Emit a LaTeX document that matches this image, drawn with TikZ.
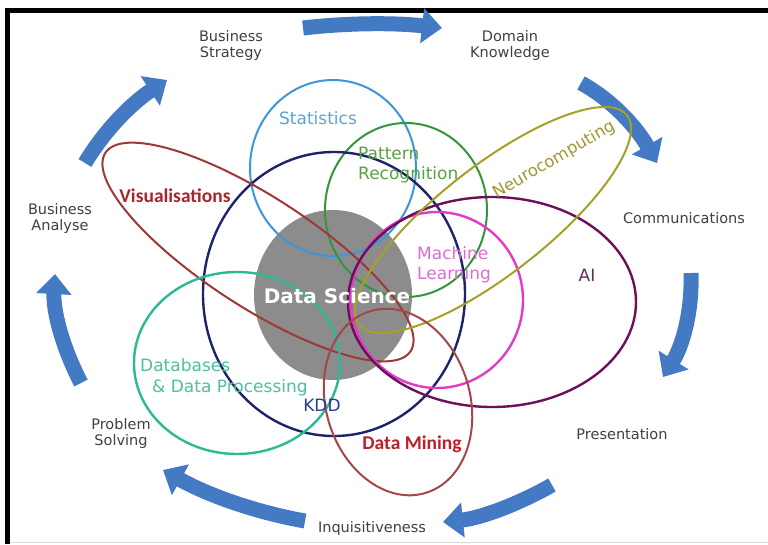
\documentclass[tikz,border=0pt]{standalone}
\usepackage{fontspec}
\setmainfont{DejaVu Sans}
\newfontfamily\crl{Carlito}
\usetikzlibrary{arrows.meta,shapes.geometric}
\definecolor{arrowblue}{RGB}{68,122,196}
\definecolor{statc}{RGB}{60,150,215}
\definecolor{statt}{RGB}{90,165,210}
\definecolor{patc}{RGB}{50,150,60}
\definecolor{patt}{RGB}{90,160,70}
\definecolor{kddc}{RGB}{30,35,110}
\definecolor{kddt}{RGB}{45,60,140}
\definecolor{visc}{RGB}{160,55,55}
\definecolor{vist}{RGB}{170,35,45}
\definecolor{dbc}{RGB}{45,185,150}
\definecolor{dbt}{RGB}{80,190,160}
\definecolor{mlc}{RGB}{225,60,200}
\definecolor{mlt}{RGB}{220,110,210}
\definecolor{aic}{RGB}{110,15,90}
\definecolor{ait}{RGB}{100,40,90}
\definecolor{nec}{RGB}{165,160,40}
\definecolor{net}{RGB}{160,150,50}
\definecolor{dmc}{RGB}{165,70,75}
\definecolor{dmt}{RGB}{190,30,40}
\definecolor{dsgray}{RGB}{140,140,140}
\definecolor{outtxt}{RGB}{64,64,64}
\tikzset{
  ring/.style={draw=#1, ellipse, line width=2pt, inner sep=0pt, outer sep=0pt},
  cyc/.style={draw=arrowblue, line width=15pt, -{Triangle[width=34pt,length=20pt]}},
  outer/.style={text=outtxt, align=center, font=\fontsize{14.5}{16}\selectfont, inner sep=0pt},
  lbl/.style={text=#1, font=\fontsize{17}{20}\selectfont, inner sep=0pt},
  blbl/.style={text=#1, font=\crl\bfseries\fontsize{19.5}{22}\selectfont, inner sep=0pt},
}
\begin{document}
\begin{tikzpicture}[x=1pt,y=-1pt]
\useasboundingbox (0,0) rectangle (768,544);
\fill[white] (0,0) rectangle (768,544);
\draw[line width=4.5pt] (7.5,544) -- (7.5,10.5) -- (768,10.5);
\draw[black!15, line width=1pt] (10,542.5) -- (768,542.5);

% cycle arrows
\coordinate (a1s) at (303,28);  \coordinate (a1e) at (442,28);
\coordinate (a2s) at (581,83);  \coordinate (a2e) at (657,163);
\coordinate (a3s) at (691,273); \coordinate (a3e) at (663,377);
\coordinate (a4s) at (552,485); \coordinate (a4e) at (443,522);
\coordinate (a5s) at (305,521); \coordinate (a5e) at (163,470);
\coordinate (a6s) at (81,383);  \coordinate (a6e) at (55,274);
\coordinate (a7s) at (85,163);  \coordinate (a7e) at (167,80);
\draw[cyc] (a1s) .. controls (349,22.7) and (395.3,22.7) .. (a1e);
\draw[cyc] (a2s) .. controls (610.3,99) and (635.7,125.7) .. (a2e);
\draw[cyc] (a3s) .. controls (692.3,310.3) and (683,345) .. (a3e);
\draw[cyc] (a4s) .. controls (515,506) and (478.7,518.3) .. (a4e);
\draw[cyc] (a5s) .. controls (256.3,512.3) and (209,495.7) .. (a5e);
\draw[cyc] (a6s) .. controls (61.7,346) and (53,309.7) .. (a6e);
\draw[cyc] (a7s) .. controls (104.3,130.7) and (131.7,103) .. (a7e);

% central disc
\node[ellipse, fill=dsgray, minimum width=158pt, minimum height=170pt, inner sep=0pt] (dsc) at (333,295) {};

% rings
\node[ring=statc, minimum width=166pt, minimum height=176pt] (stat) at (333,168) {};
\node[ring=patc, minimum width=162pt, minimum height=174pt] (pat) at (406,210) {};
\node[ring=kddc, minimum width=262pt, minimum height=284pt, line width=2.4pt] (kdd) at (334,294) {};
\node[ring=visc, minimum width=364pt, minimum height=110pt, rotate=-33] (vis) at (258,252) {};
\node[ring=dbc, minimum width=206pt, minimum height=182pt, line width=2.4pt] (db) at (237,363) {};
\node[ring=mlc, minimum width=172pt, minimum height=176pt, line width=2.4pt] (ml) at (437,300) {};
\node[ring=aic, minimum width=288pt, minimum height=210pt, line width=2.4pt] (ai) at (492,302) {};
\node[ring=nec, minimum width=340pt, minimum height=108pt, rotate=38] (neu) at (493,220) {};
\node[ring=dmc, minimum width=144pt, minimum height=190pt, rotate=17] (dm) at (398,402) {};

% labels
\node[text=white, font=\bfseries\fontsize{20}{22}\selectfont, inner sep=0pt] (tds) at (337,296) {Data Science};
\node[lbl=statt] (tstat) at (318,118) {Statistics};
\node[lbl=patt, align=left, anchor=west] (tpat) at (358,165) {Pattern\\Recognition};
\node[lbl=mlt, align=left, anchor=west] (tml) at (417,265) {Machine\\Learning};
\node[lbl=dbt, anchor=base west] (tdb1) at (140,371) {Databases};
\node[lbl=dbt, anchor=base west] (tdb2) at (152,392) {\& Data Processing};
\node[lbl=kddt] (tkdd) at (322,405) {KDD};
\node[lbl=ait] (tai) at (587,275) {AI};
\node[lbl=net, rotate=30, font=\fontsize{16.5}{18}\selectfont] (tneu) at (554,160) {Neurocomputing};
\node[blbl=vist] (tvis) at (175,196) {Visualisations};
\node[blbl=dmt] (tdm) at (412,444) {Data Mining};

\node[outer] (lbs) at (231,45) {Business\\Strategy};
\node[outer] (ldk) at (510,45) {Domain\\Knowledge};
\node[outer] (lcom) at (684,218) {Communications};
\node[outer] (lpres) at (622,434) {Presentation};
\node[outer] (linq) at (372,528) {Inquisitiveness};
\node[outer] (lps) at (121,433) {Problem\\Solving};
\node[outer] (lba) at (60,218) {Business\\Analyse};
\end{tikzpicture}
\end{document}
